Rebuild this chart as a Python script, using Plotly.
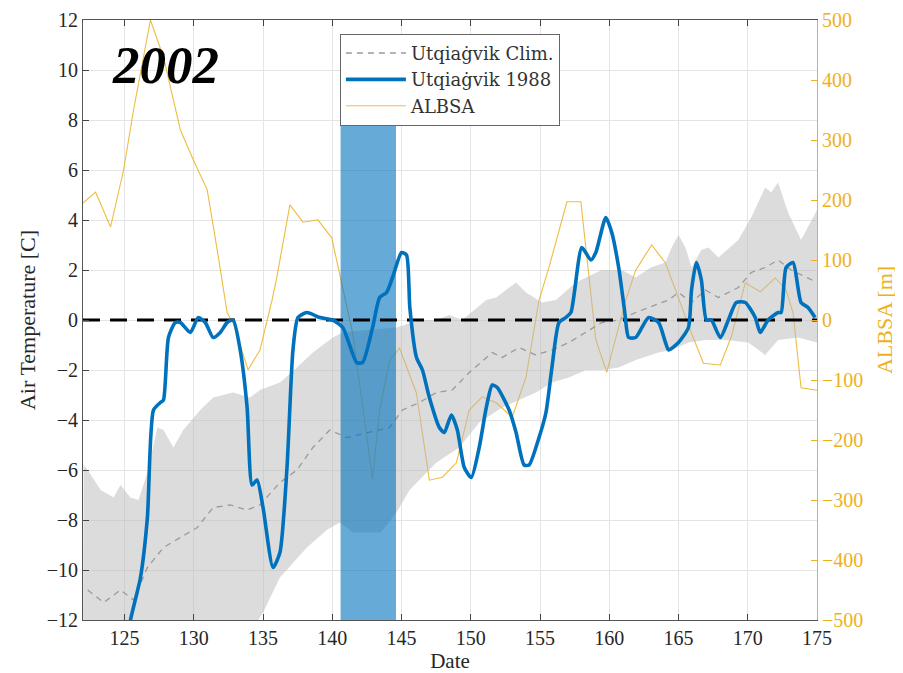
import plotly.graph_objects as go

# ---------------- data ----------------
x_range = [122, 175]
temp_range = [-12, 12]
albsa_range = [-500, 500]
temp_ticks = list(range(-12, 13, 2))
albsa_ticks = list(range(-500, 501, 100))
date_ticks = [125, 130, 135, 140, 145, 150, 155, 160, 165, 170, 175]

# climatological envelope (upper / lower edge of grey band)
band_upper_day = [122.05, 122.34, 123.27, 124.21, 124.71, 125.43, 126.01, 126.65, 127.37, 127.81,
                  128.53, 129.24, 130.47, 131.40, 132.84, 134.06, 134.78, 136.22, 137.45, 138.60,
                  140.04, 140.76, 142.5, 144.64, 146.29, 147.52, 148.45, 149.39, 151.12, 151.83,
                  153.27, 153.99, 155.14, 156.15, 157.59, 159.46, 160.90, 161.91, 162.99, 164.06,
                  164.5, 165.0, 165.5, 165.94, 166.65, 167.16, 167.88, 169.32, 170.25, 171.26,
                  171.69, 172.19, 172.91, 173.85, 175.0]
band_upper = [-5.8, -6.0, -6.8, -7.1, -6.6, -7.1, -7.2, -6.1, -4.3, -4.4,
              -5.1, -4.4, -3.6, -3.1, -2.9, -3.1, -2.8, -2.5, -1.9, -1.3,
              -0.7, -0.5, -0.4, -0.3, 0.0, 0.0, 0.2, 0.0, 0.8, 0.9,
              1.5, 1.1, 0.7, 0.8, 1.5, 2.0, 2.0, 1.7, 2.1, 2.3,
              2.9, 3.4, 2.9, 2.1, 2.8, 2.9, 2.5, 3.2, 4.1, 5.3,
              5.1, 5.5, 4.3, 3.2, 4.4]
band_lower_day = [122.0, 133.5, 135.0, 136.22, 138.17, 139.60, 140.54, 141.5, 143.5, 144.64,
                  145.58, 147.52, 149.17, 150.61, 152.27, 153.49, 154.71, 155.86, 157.09, 158.31,
                  159.46, 160.68, 161.91, 163.56, 164.50, 165.72, 166.94, 168.38, 170.04, 171.26,
                  172.19, 173.63, 175.0]
band_lower = [-13.0, -13.0, -11.7, -10.3, -9.1, -8.4, -8.1, -8.5, -8.5, -7.7,
              -6.8, -5.7, -5.1, -4.1, -3.5, -3.2, -2.9, -2.5, -2.3, -2.0,
              -2.0, -1.9, -1.6, -1.3, -1.2, -0.9, -0.8, -0.8, -0.9, -1.4,
              -0.8, -0.7, -0.9]

# Utqiagvik climatology (dashed grey)
clim_day = [122.34, 123.49, 124.71, 125.65, 126.65, 127.81, 129.03, 130.25, 131.40, 132.63,
            133.85, 134.78, 136.22, 137.45, 138.60, 139.82, 141.04, 142.70, 144.14, 145.07,
            146.29, 147.52, 148.67, 149.89, 151.55, 152.27, 153.49, 154.71, 155.86, 157.09,
            158.31, 159.46, 160.68, 161.91, 164.28, 165.0, 165.94, 166.94, 167.88, 169.32,
            170.25, 171.26, 172.19, 173.13, 175.0]
clim_temp = [-10.8, -11.3, -10.8, -11.2, -9.9, -9.1, -8.7, -8.3, -7.5, -7.4,
             -7.6, -7.4, -6.5, -6.0, -5.1, -4.4, -4.7, -4.5, -4.3, -3.6,
             -3.3, -2.9, -2.8, -2.1, -1.3, -1.5, -1.1, -1.4, -1.2, -0.9,
             -0.5, -0.1, 0.0, 0.3, 0.8, 1.1, 0.7, 1.2, 0.9, 1.3,
             1.9, 2.1, 2.4, 2.0, 1.5]

# Utqiagvik 1988 air temperature (blue)
obs_day = [125.2, 125.43, 126.15, 126.65, 127.09, 127.59, 127.81, 128.17, 128.67, 129.03,
           129.75, 130.32, 130.83, 131.40, 131.91, 132.41, 132.84, 133.35, 133.85, 134.21,
           134.57, 135.0, 135.72, 136.22, 136.73, 137.16, 137.52, 138.17, 139.10, 140.04,
           140.76, 141.76, 142.19, 142.91, 143.42, 143.92, 144.35, 145.0, 145.36, 145.6,
           146.08, 146.51, 147.01, 147.73, 148.09, 148.60, 149.03, 149.53, 150.04, 150.61,
           151.12, 151.55, 151.91, 152.77, 153.27, 153.85, 154.21, 154.93, 155.43, 155.86,
           156.37, 156.87, 157.23, 158.02, 158.67, 159.03, 159.75, 160.18, 160.68, 161.1,
           161.4, 161.91, 162.84, 163.56, 164.06, 164.28, 165.0, 165.72, 165.94, 166.29,
           166.65, 167.01, 167.37, 168.02, 168.60, 169.17, 169.82, 170.54, 170.90, 171.47,
           172.19, 172.41, 172.77, 173.27, 173.85, 174.35, 174.86]
obs_temp = [-13.0, -12.0, -10.3, -7.9, -3.6, -3.3, -3.2, -0.7, -0.1, -0.1,
            -0.5, 0.1, -0.1, -0.7, -0.5, -0.1, 0.0, -1.2, -3.5, -6.6,
            -6.4, -7.5, -9.9, -9.3, -5.9, -1.2, 0.1, 0.3, 0.1, 0.0,
            -0.3, -1.7, -1.7, -0.3, 0.9, 1.1, 1.7, 2.7, 2.6, 0.5,
            -1.5, -2.0, -3.1, -4.3, -4.5, -3.8, -4.4, -5.9, -6.3, -5.1,
            -3.5, -2.6, -2.7, -3.6, -4.5, -5.8, -5.8, -4.7, -3.7, -1.9,
            -0.1, 0.1, 0.3, 2.9, 2.4, 2.7, 4.1, 3.5, 2.1, 0.4,
            -0.7, -0.7, 0.1, -0.1, -0.9, -1.2, -0.9, -0.3, 1.2, 2.3,
            1.6, 0.0, 0.0, -0.7, 0.0, 0.7, 0.7, 0.1, -0.5, 0.0,
            0.3, 0.3, 2.1, 2.3, 0.7, 0.5, 0.1]

# ALBSA (m, right axis)
albsa_day = [122.0, 122.91, 123.99, 124.93, 125.65, 126.87, 127.81, 129.03, 129.96, 130.97,
             131.69, 132.41, 132.84, 133.92, 134.78, 135.65, 136.0, 136.94, 137.88, 138.96,
             139.96, 140.76, 141.47, 142.91, 143.42, 144.14, 144.86, 146.08, 147.01, 147.95,
             148.96, 149.89, 150.83, 151.83, 152.99, 153.99, 154.93, 155.65, 156.94, 157.95,
             158.74, 159.03, 159.82, 160.54, 161.19, 161.91, 163.06, 164.06, 164.78, 165.58,
             165.94, 166.80, 168.02, 168.81, 169.53, 169.82, 170.90, 171.98, 172.77, 173.27,
             173.85, 175.0]
albsa_m = [195, 213, 155, 250, 350, 500, 438, 317, 267, 217,
           117, 12, -5, -83, -50, 33, 72, 192, 163, 167,
           137, 55, -22, -265, -150, -67, -47, -122, -267, -262,
           -238, -150, -128, -138, -162, -95, 33, 88, 197, 197,
           33, -33, -87, -22, 33, 83, 125, 95, 50, 0,
           -22, -72, -75, -28, 33, 62, 47, 70, 50, 12,
           -113, -117]

# highlighted event window
event_days = [140.6, 144.6]
event_top = 8.2

year_label = "2002"

# ---------------- colours ----------------
BLUE = "#0072BD"
GOLD = "#EDB120"
SERIF = "Liberation Serif, Times New Roman, serif"

fig = go.Figure()

# ALBSA on primary (right) axis -> drawn underneath temperature layer
fig.add_trace(go.Scatter(
    x=albsa_day, y=albsa_m, mode="lines", name="ALBSA",
    line=dict(color=GOLD, width=1.1), opacity=0.85,
    xaxis="x", yaxis="y", legendrank=3))

# grey envelope
fig.add_trace(go.Scatter(
    x=band_upper_day + band_lower_day[::-1],
    y=band_upper + band_lower[::-1],
    fill="toself", fillcolor="rgba(185,185,185,0.5)",
    line=dict(width=0), mode="lines", showlegend=False, hoverinfo="skip",
    xaxis="x", yaxis="y2"))

# climatology dashed
fig.add_trace(go.Scatter(
    x=clim_day, y=clim_temp, mode="lines", name="Utqiaġvik Clim.",
    line=dict(color="#9a9a9a", width=1.3, dash="6px,5px"),
    xaxis="x", yaxis="y2", legendrank=1))

# event rectangle
fig.add_trace(go.Scatter(
    x=[event_days[0], event_days[1], event_days[1], event_days[0], event_days[0]],
    y=[temp_range[0], temp_range[0], event_top, event_top, temp_range[0]],
    fill="toself", fillcolor="rgba(0,114,189,0.6)", line=dict(width=0),
    mode="lines", showlegend=False, hoverinfo="skip",
    xaxis="x", yaxis="y2"))

# zero reference line
fig.add_trace(go.Scatter(
    x=x_range, y=[0, 0], mode="lines", showlegend=False,
    line=dict(color="black", width=3, dash="17px,10px"),
    xaxis="x", yaxis="y2"))

# observed temperature
fig.add_trace(go.Scatter(
    x=obs_day, y=obs_temp, mode="lines", name="Utqiaġvik 1988",
    line=dict(color=BLUE, width=3.6, shape="spline", smoothing=0.6),
    xaxis="x", yaxis="y2", legendrank=2))

fig.add_annotation(
    text="<b><i>" + year_label + "</i></b>", xref="paper", yref="paper",
    x=0.113, y=0.925, xanchor="center", yanchor="middle", showarrow=False,
    font=dict(family=SERIF, size=53, color="black"))

axis_font = dict(family=SERIF, size=20, color="#262626")

# page body has an 8px margin: figure is offset by (8, 8)
fig.update_layout(
    width=895, height=665,
    margin=dict(l=75, r=86, t=12, b=53),
    paper_bgcolor="white", plot_bgcolor="white",
    showlegend=True,
    legend=dict(x=0.35, y=0.977, xanchor="left", yanchor="top",
                bgcolor="white", bordercolor="#666666", borderwidth=1,
                font=dict(family="DejaVu Serif, serif", size=18, color="#333333"),
                itemwidth=60, tracegroupgap=0, traceorder="normal"),
    xaxis=dict(range=x_range, tickvals=date_ticks, ticks="inside", ticklen=6,
               tickcolor="#444", showline=True, linecolor="#555", linewidth=1,
               mirror="ticks", showgrid=True, gridcolor="#e4e4e4", zeroline=False,
               tickfont=axis_font,
               title=dict(text="Date", font=dict(family=SERIF, size=21, color="#262626"),
                          standoff=2),
               automargin=False, anchor="y"),
    yaxis=dict(range=albsa_range, tickvals=albsa_ticks, side="right",
               ticks="inside", ticklen=6, tickcolor=GOLD,
               showline=True, linecolor=GOLD, linewidth=1,
               showgrid=False, zeroline=False,
               tickfont=dict(family=SERIF, size=20, color=GOLD),
               title=dict(text="ALBSA [m]", font=dict(family=SERIF, size=22, color=GOLD),
                          standoff=14),
               automargin=False),
    yaxis2=dict(range=temp_range, tickvals=temp_ticks, side="left", overlaying="y",
                ticks="inside", ticklen=6, tickcolor="#444",
                showline=True, linecolor="#555", linewidth=1,
                showgrid=True, gridcolor="#e4e4e4", zeroline=False,
                tickfont=axis_font,
                title=dict(text="Air Temperature [C]",
                           font=dict(family=SERIF, size=22, color="#262626"),
                           standoff=5),
                automargin=False, anchor="x"),
)

fig.write_html("out.html")
